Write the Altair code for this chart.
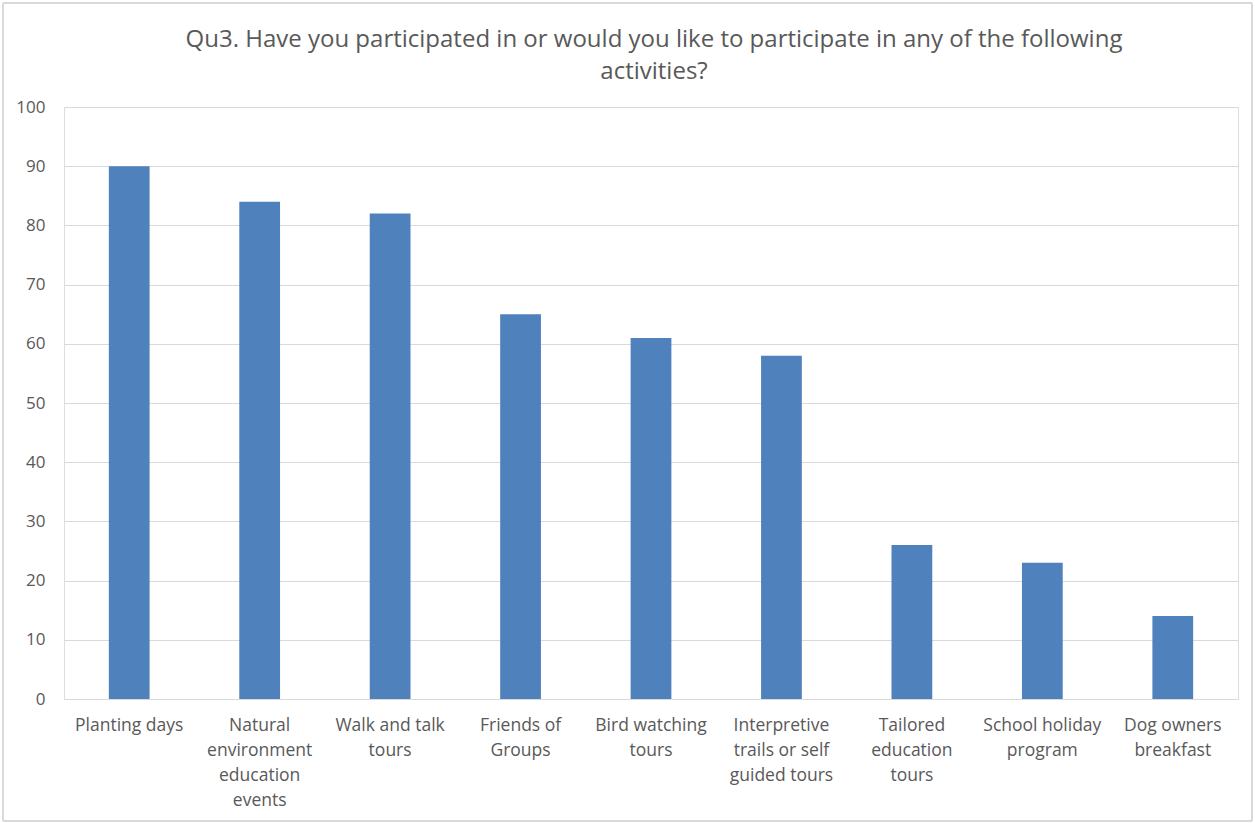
import altair as alt
import pandas as pd

categories = [
    "Planting days",
    "Natural environment education events",
    "Walk and talk tours",
    "Friends of Groups",
    "Bird watching tours",
    "Interpretive trails or self guided tours",
    "Tailored education tours",
    "School holiday program",
    "Dog owners breakfast",
]
values = [90, 84, 82, 65, 61, 58, 26, 23, 14]
label_lines = [
    ["Planting days"],
    ["Natural", "environment", "education", "events"],
    ["Walk and talk", "tours"],
    ["Friends of", "Groups"],
    ["Bird watching", "tours"],
    ["Interpretive", "trails or self", "guided tours"],
    ["Tailored", "education", "tours"],
    ["School holiday", "program"],
    ["Dog owners", "breakfast"],
]
title_lines = [
    "Qu3. Have you participated in or would you like to participate in any of the following",
    "activities?",
]

df = pd.DataFrame({"activity": categories, "count": values})

expr = "datum.label"
for cat, lines in reversed(list(zip(categories, label_lines))):
    arr = "[" + ",".join("'" + l + "'" for l in lines) + "]"
    expr = f"datum.label == '{cat}' ? {arr} : ({expr})"

FONT = "Open Sans"
GREY = "#595959"

bars = alt.Chart(df).mark_bar(color="#4f81bd").encode(
    x=alt.X(
        "activity:N",
        sort=categories,
        title=None,
        scale=alt.Scale(paddingInner=0.6875, paddingOuter=0.34375),
        axis=alt.Axis(
            labelExpr=expr,
            labelAngle=0,
            labelFontSize=17.5,
            labelColor=GREY,
            labelFont=FONT,
            labelLineHeight=25,
            labelPadding=17,
            ticks=False,
            domainColor="#d9d9d9",
            labelLimit=200,
        ),
    ),
    y=alt.Y(
        "count:Q",
        title=None,
        scale=alt.Scale(domain=[0, 100]),
        axis=alt.Axis(
            values=list(range(0, 101, 10)),
            labelFontSize=17,
            labelColor=GREY,
            labelFont=FONT,
            labelPadding=19,
            ticks=False,
            domain=False,
            gridColor="#d9d9d9",
        ),
    ),
)

border = alt.Chart(df).mark_rect(
    fill=None, stroke="#d9d9d9", strokeWidth=1, clip=False
).encode(
    x=alt.value(-61), x2=alt.value(1188), y=alt.value(-104), y2=alt.value(714)
)

title_df = pd.DataFrame({"t": [title_lines]})
title = alt.Chart(title_df).mark_text(
    font=FONT,
    fontSize=24,
    color=GREY,
    lineHeight=32,
    align="center",
    baseline="top",
).encode(
    text="t:N",
    x=alt.value(590),
    y=alt.value(-79),
)

chart = (
    alt.layer(border, bars, title)
    .properties(
        width=1174,
        height=592,
        autosize=alt.AutoSizeParams(type="none"),
        padding={"left": 64, "top": 107, "right": 17, "bottom": 124},
    )
    .configure_view(stroke=None)
    .configure(background="white")
)

chart.save("out.html", embed_options={"renderer": "svg", "actions": False})
